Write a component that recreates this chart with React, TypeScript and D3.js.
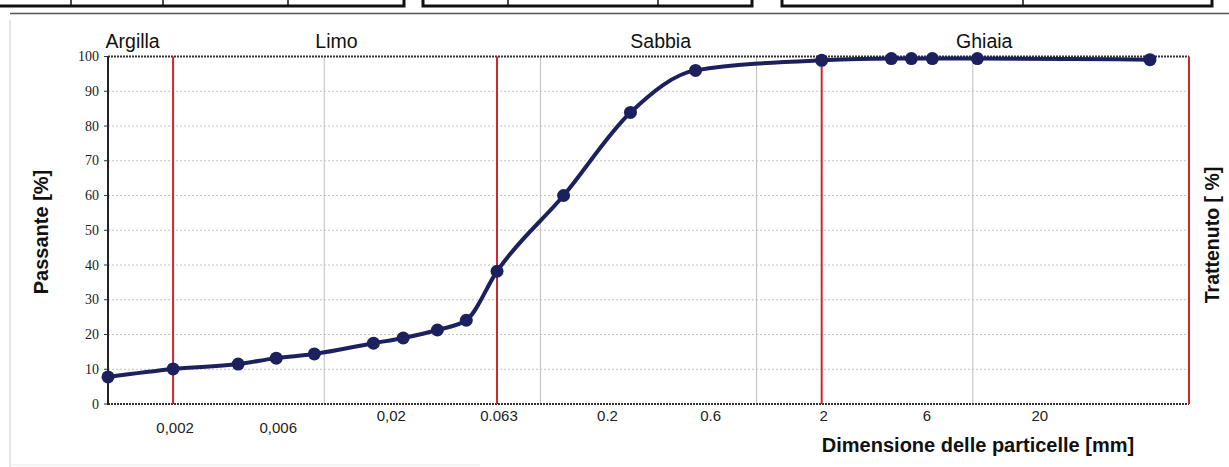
import React from "react";
import * as d3 from "d3";

// particle size [mm] and passing [%]
const sizes = [0.001, 0.002, 0.004, 0.006, 0.009, 0.0169, 0.0232, 0.0334, 0.0454, 0.063, 0.128, 0.261, 0.522, 2, 4.2, 5.2, 6.5, 10.5, 66];
const passing = [7.8, 10.1, 11.5, 13.2, 14.4, 17.5, 19, 21.3, 24.1, 38.2, 60, 83.9, 96, 98.9, 99.4, 99.4, 99.4, 99.4, 99.1];

const yTicks = [0, 10, 20, 30, 40, 50, 60, 70, 80, 90, 100];
const xTickValues = [0.002, 0.006, 0.02, 0.063, 0.2, 0.6, 2, 6, 20];
const xTickLabels = ["0,002", "0,006", "0,02", "0.063", "0.2", "0.6", "2", "6", "20"];
const gridValues = [0.01, 0.1, 1, 10];
const boundaryValues = [0.002, 0.063, 2, 100];
const classNames = ["Argilla", "Limo", "Sabbia", "Ghiaia"];
const classCenters = [0.0013, 0.0114, 0.36, 11.3];

const W = 1229;
const H = 467;
const NAVY = "#1d205e";
const RED = "#d0262b";

export default function App() {
  const x = d3.scaleLog().domain([0.001, 100]).range([108, 1189]);
  const y = d3.scaleLinear().domain([0, 100]).range([404, 56.5]);
  const pts = sizes.map((s, i) => [x(s), y(passing[i])] as [number, number]);
  const line = d3.line().curve(d3.curveMonotoneX)(pts) || "";
  const sans = "'Liberation Sans', Arial, sans-serif";
  const serif = "'Liberation Serif', 'Times New Roman', serif";

  return (
    <svg width={W} height={H} style={{ position: "absolute", left: 0, top: 0, background: "#fff" }}>
      <rect x={0} y={0} width={W} height={H} fill="#fff" />
      {/* top document boxes */}
      <g fill="none" stroke="#111" strokeWidth={3}>
        <rect x={-3} y={-6} width={407} height={12} />
        <line x1={71} y1={-6} x2={71} y2={6} strokeWidth={1.5} />
        <line x1={163} y1={-6} x2={163} y2={6} strokeWidth={1.5} />
        <line x1={288} y1={-6} x2={288} y2={6} strokeWidth={1.5} />
        <rect x={423} y={-6} width={329} height={12} />
        <line x1={508} y1={-6} x2={508} y2={6} strokeWidth={1.5} />
        <line x1={658} y1={-6} x2={658} y2={6} strokeWidth={1.5} />
        <rect x={782} y={-6} width={430} height={12} />
        <line x1={1023} y1={-6} x2={1023} y2={6} strokeWidth={1.5} />
      </g>
      <line x1={10} y1={13.5} x2={W} y2={13.5} stroke="#555" strokeWidth={1.5} />
      <line x1={10} y1={20} x2={10} y2={H} stroke="#ddd" strokeWidth={1.5} />
      <line x1={10} y1={465} x2={480} y2={465} stroke="#e6e6e6" strokeWidth={1} />

      {/* horizontal grid */}
      {yTicks.filter((t) => t > 0 && t < 100).map((t) => (
        <line key={"h" + t} x1={x(0.001)} x2={x(100)} y1={y(t)} y2={y(t)} stroke="#c4c4c4" strokeWidth={1} strokeDasharray="2,2" />
      ))}
      {/* vertical grid */}
      {gridValues.map((g) => (
        <line key={"v" + g} x1={x(g)} x2={x(g)} y1={y(100)} y2={y(0)} stroke="#bdbdbd" strokeWidth={1} />
      ))}
      {/* frame */}
      <line x1={x(0.001)} x2={x(100)} y1={y(100)} y2={y(100)} stroke="#333" strokeWidth={2} strokeDasharray="2,1" />
      <line x1={x(0.001)} x2={x(100)} y1={y(0)} y2={y(0)} stroke="#333" strokeWidth={2} strokeDasharray="2,1" />
      <line x1={x(0.001)} x2={x(0.001)} y1={y(100)} y2={y(0) + 1} stroke="#222" strokeWidth={2} />
      {/* y ticks */}
      {yTicks.map((t) => (
        <g key={"yt" + t}>
          <line x1={x(0.001) - 4} x2={x(0.001)} y1={y(t)} y2={y(t)} stroke="#333" strokeWidth={1} />
          <text x={x(0.001) - 9} y={y(t)} dy="0.33em" textAnchor="end" fontFamily={serif} fontSize={14} fill="#222">{t}</text>
        </g>
      ))}
      {/* boundary lines */}
      {boundaryValues.map((b) => (
        <line key={"b" + b} x1={x(b)} x2={x(b)} y1={y(100)} y2={y(0)} stroke={RED} strokeWidth={2} />
      ))}
      {/* x tick labels */}
      {xTickValues.map((v, i) => (
        <text key={"xt" + v} x={x(v) + 2} y={i < 2 ? 433 : 421} textAnchor="middle" fontFamily={sans} fontSize={15} fill="#222">{xTickLabels[i]}</text>
      ))}
      {/* class names */}
      {classNames.map((c, i) => (
        <text key={c} x={x(classCenters[i])} y={48} textAnchor="middle" fontFamily={sans} fontSize={19.5} fill="#111">{c}</text>
      ))}
      {/* curve */}
      <path d={line} fill="none" stroke={NAVY} strokeWidth={4} strokeLinejoin="round" />
      {pts.map((p, i) => (
        <circle key={"p" + i} cx={p[0]} cy={p[1]} r={6.5} fill={NAVY} />
      ))}
      {/* axis titles */}
      <text transform="translate(48,232) rotate(-90)" textAnchor="middle" fontFamily={sans} fontWeight="bold" fontSize={20} fill="#111">Passante [%]</text>
      <text transform="translate(1219,235) rotate(-90)" textAnchor="middle" fontFamily={sans} fontWeight="bold" fontSize={19.5} fill="#111">Trattenuto [ %]</text>
      <text x={978} y={452} textAnchor="middle" fontFamily={sans} fontWeight="bold" fontSize={20} fill="#111">Dimensione delle particelle [mm]</text>
    </svg>
  );
}
